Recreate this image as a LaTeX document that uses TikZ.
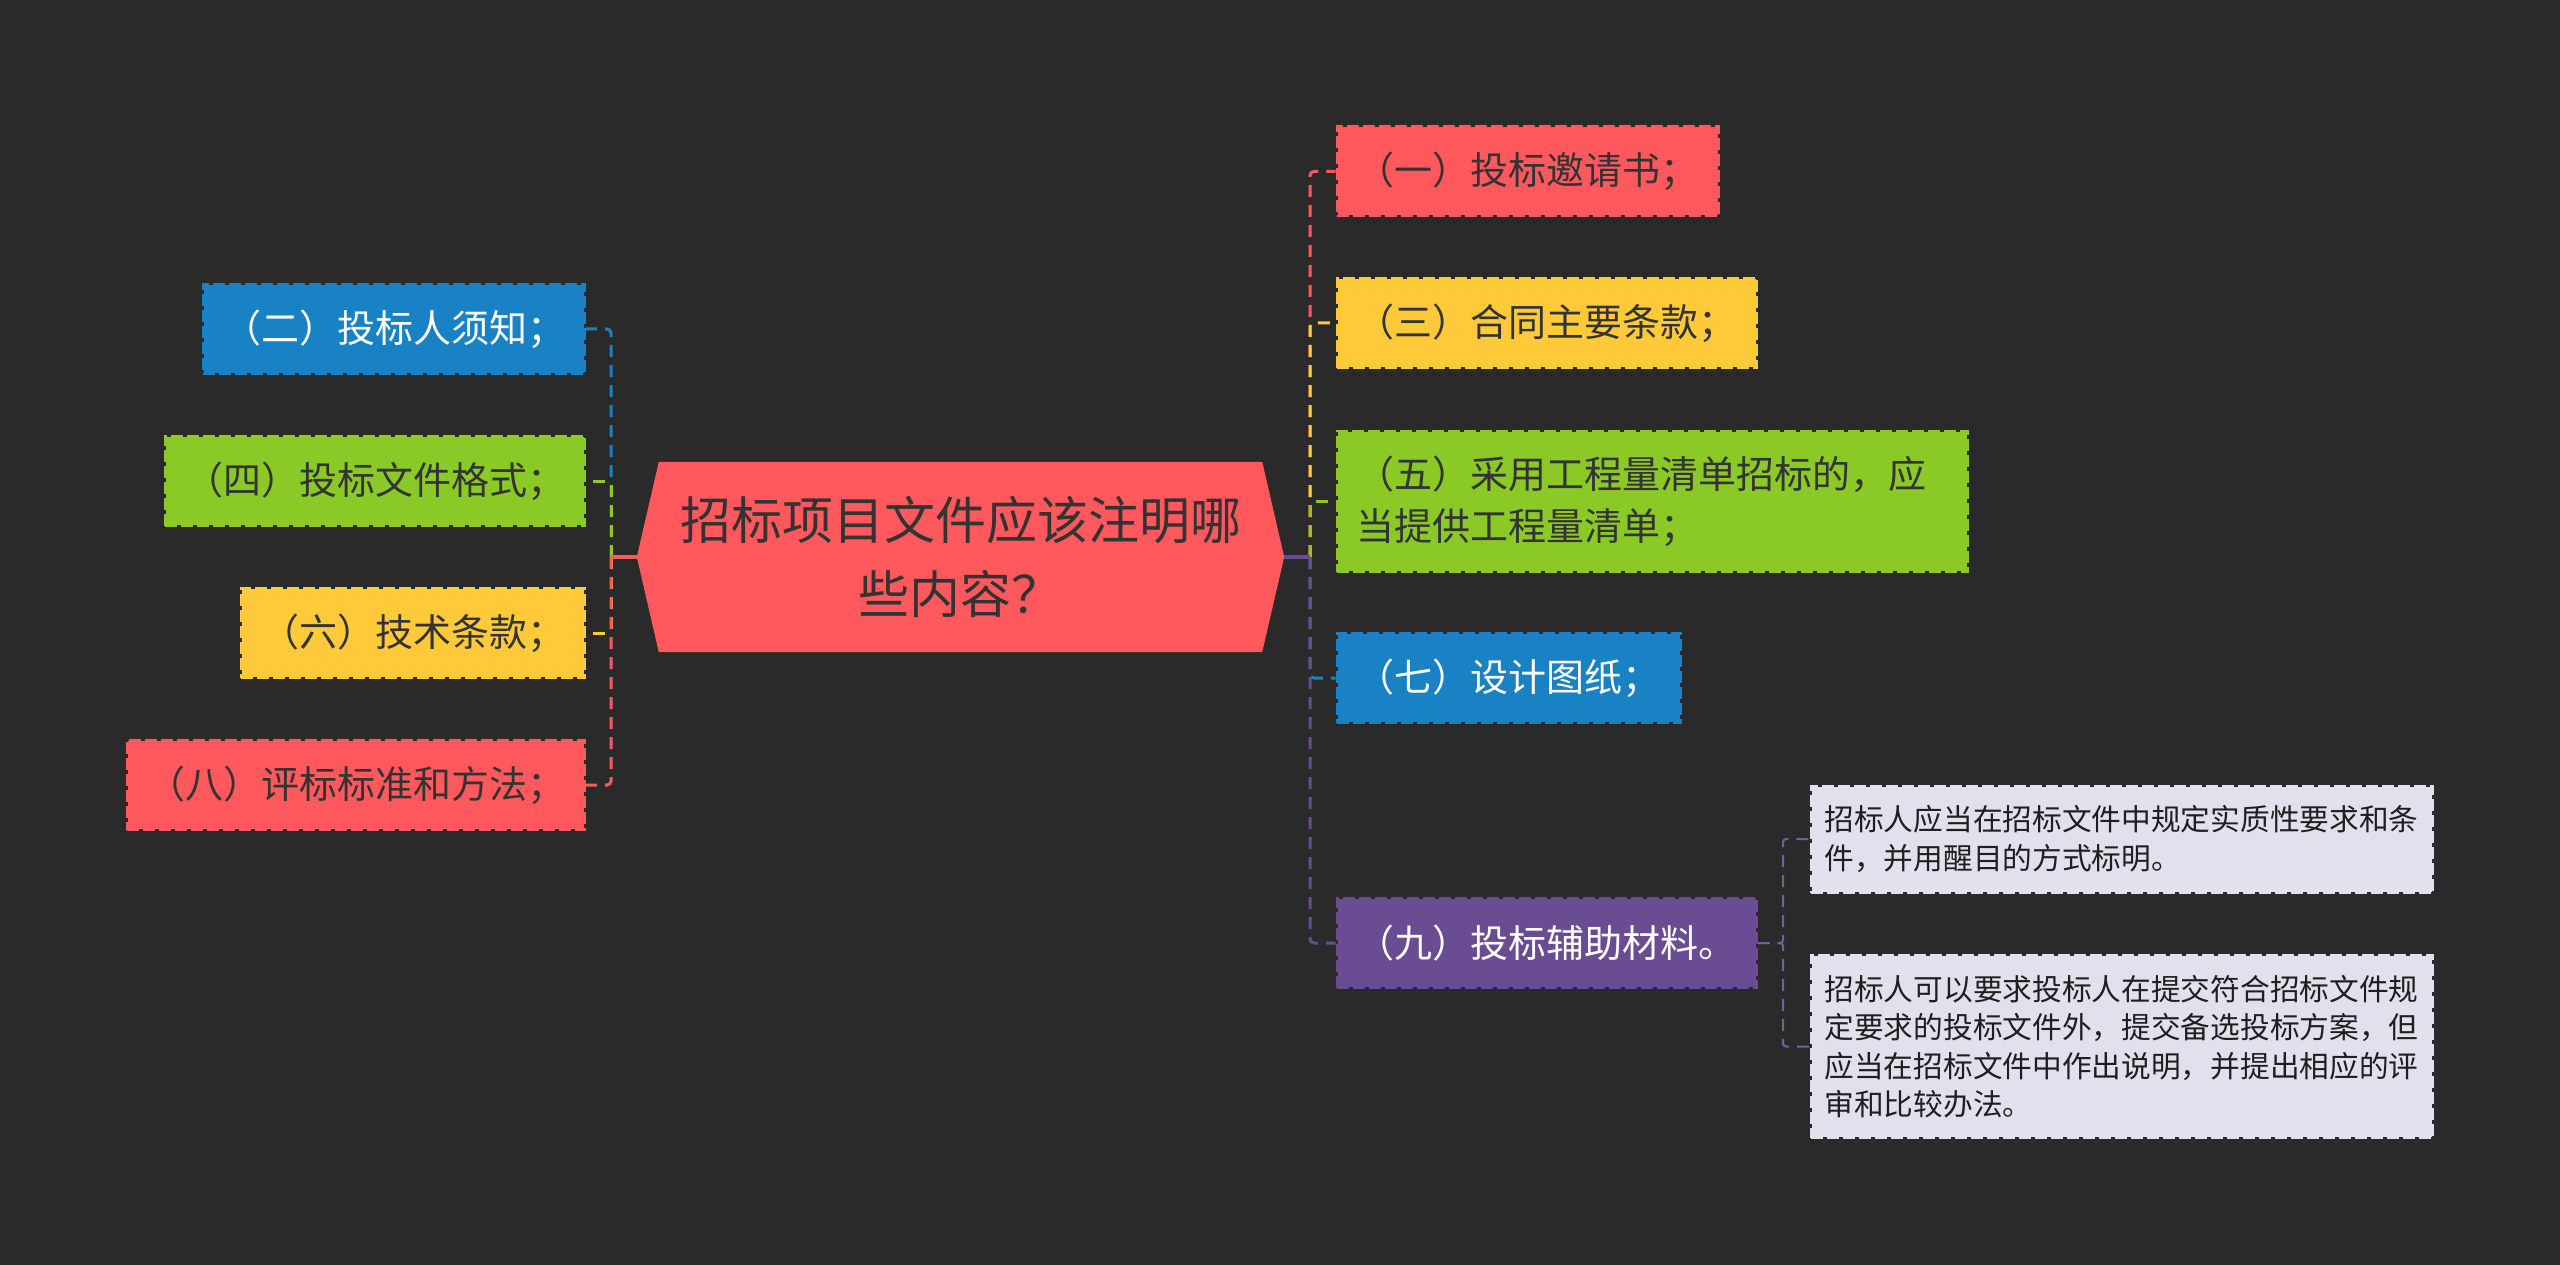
\documentclass[tikz,border=0pt]{standalone}
\usepackage{fontspec}
\newfontfamily\cjk{Noto Sans CJK SC}
\usetikzlibrary{backgrounds}
\definecolor{bgc}{HTML}{2A2A2A}
\definecolor{cred}{HTML}{FF595E}
\definecolor{cyellow}{HTML}{FFCA3A}
\definecolor{cgreen}{HTML}{8AC926}
\definecolor{cblue}{HTML}{1982C4}
\definecolor{cpurple}{HTML}{6A4C93}
\definecolor{clav}{HTML}{E4DFEC}
\definecolor{ctext}{HTML}{333333}
\begin{document}
\begin{tikzpicture}[x=1pt,y=-1pt,
  box/.style={inner sep=0pt, minimum height=90pt, align=center,
    font=\cjk\fontsize{38}{52}\selectfont, line width=2pt,
    fill=#1, draw=bgc, postaction={draw=#1, line width=2pt, dash pattern=on 12pt off 4pt}},
  darktext/.style={text=ctext},
  lighttext/.style={text=white},
  kid/.style={inner xsep=14pt, inner ysep=0pt, text width=594pt, align=left,
    font=\cjk\fontsize{29.7}{38.5}\selectfont, text=black!88, line width=2pt,
    fill=clav, draw=bgc, postaction={draw=clav, line width=2pt, dash pattern=on 12pt off 4pt}},
  cnode/.style={inner sep=0pt, minimum width=647pt, minimum height=190pt, align=center,
    text=ctext, font=\cjk\fontsize{51}{74}\selectfont},
  conn/.style={line width=3pt, dash pattern=on 12pt off 8pt, rounded corners=4pt},
  subconn/.style={line width=2pt, dash pattern=on 12pt off 8pt, rounded corners=3pt, cpurple!90!white},
  stub/.style={line width=3.5pt}
]
% central node
\node[cnode] (c) at (960.5,557) {招标项目文件应该注明哪\\些内容？};

% left branches
\node[box=cblue, lighttext, minimum width=382pt] (n2) at (394,329) {（二）投标人须知；};
\node[box=cgreen, darktext, minimum width=420pt] (n4) at (375,481) {（四）投标文件格式；};
\node[box=cyellow, darktext, minimum width=344pt] (n6) at (413,633) {（六）技术条款；};
\node[box=cred, darktext, minimum width=458pt] (n8) at (356,785) {（八）评标标准和方法；};

% right branches
\node[box=cred, darktext, minimum width=382pt] (n1) at (1527.5,171.5) {（一）投标邀请书；};
\node[box=cyellow, darktext, minimum width=420pt] (n3) at (1546.5,323) {（三）合同主要条款；};
\node[box=cgreen, darktext, minimum height=141pt, inner xsep=20pt, text width=591pt, align=left] (n5) at (1652,501)
  {（五）采用工程量清单招标的，应\\当提供工程量清单；};
\node[box=cblue, lighttext, minimum width=344pt] (n7) at (1508.5,678) {（七）设计图纸；};
\node[box=cpurple, lighttext, minimum width=420pt] (n9) at (1546.5,943) {（九）投标辅助材料。};

% children of (九)
\node[kid, minimum height=107pt] (k1) at (2121.5,839)
  {招标人应当在招标文件中规定实质性要求和条\\件，并用醒目的方式标明。};
\node[kid, minimum height=183pt] (k2) at (2121.5,1046.5)
  {招标人可以要求投标人在提交符合招标文件规\\定要求的投标文件外，提交备选投标方案，但\\应当在招标文件中作出说明，并提出相应的评\\审和比较办法。};

\coordinate (ls) at (611,557);
\coordinate (rs) at (1310,557);
\coordinate (s9) at (1783,943);

\begin{scope}[on background layer]
  \fill[bgc] (0,0) rectangle (2560,1265);
  \fill[cred] (c.west) -- ([xshift=22pt]c.north west) -- ([xshift=-22pt]c.north east)
    -- (c.east) -- ([xshift=-22pt]c.south east) -- ([xshift=22pt]c.south west) -- cycle;
  % left connectors
  \draw[conn, cblue] (ls) |- (n2.east);
  \draw[conn, cgreen] (ls) |- (n4.east);
  \draw[conn, cyellow] (ls) |- (n6.east);
  \draw[conn, cred] (ls) |- (n8.east);
  \draw[stub, cred] (c.west) -- (ls);
  % right connectors
  \draw[conn, cred] (rs) |- (n1.west);
  \draw[conn, cyellow] (rs) |- (n3.west);
  \draw[conn, cgreen] (rs) |- (n5.west);
  \draw[conn, cblue] (rs) |- (n7.west);
  \draw[conn, cpurple] (rs) |- (n9.west);
  \draw[stub, cpurple] (c.east) -- (rs);
  % sub connectors
  \draw[subconn] (n9.east) -- (s9) |- (k1.west);
  \draw[subconn] (n9.east) -- (s9) |- (k2.west);
\end{scope}
\end{tikzpicture}
\end{document}
